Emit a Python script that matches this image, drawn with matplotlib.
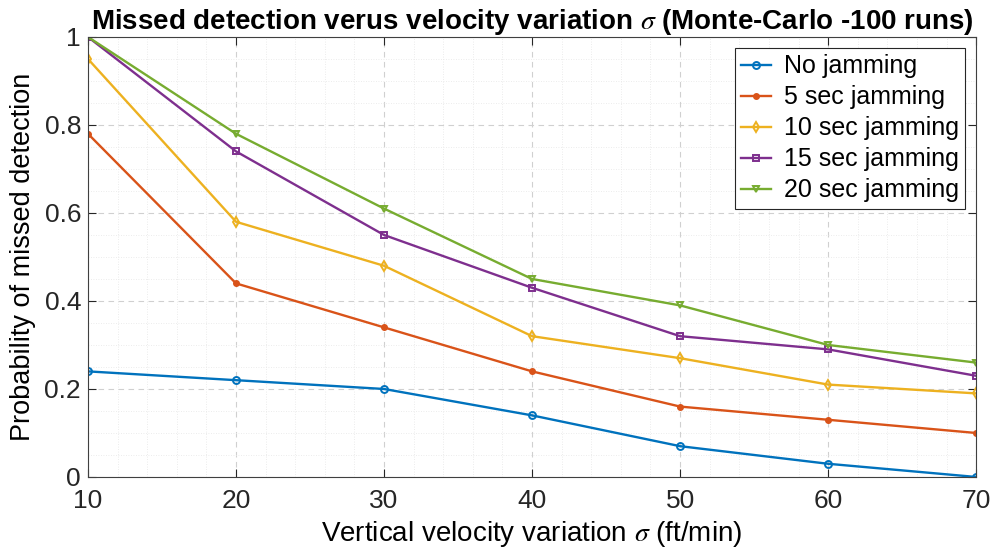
import numpy as np
import matplotlib
matplotlib.use("Agg")
import matplotlib.pyplot as plt
from matplotlib.ticker import MultipleLocator

plt.rcParams['font.family'] = ['Liberation Sans', 'DejaVu Sans']
plt.rcParams['mathtext.fontset'] = 'stix'

# data
sigma = [10, 20, 30, 40, 50, 60, 70]
no_jam = [0.24, 0.22, 0.20, 0.14, 0.07, 0.03, 0.00]
jam_5 = [0.78, 0.44, 0.34, 0.24, 0.16, 0.13, 0.10]
jam_10 = [0.95, 0.58, 0.48, 0.32, 0.27, 0.21, 0.19]
jam_15 = [1.00, 0.74, 0.55, 0.43, 0.32, 0.29, 0.23]
jam_20 = [1.00, 0.78, 0.61, 0.45, 0.39, 0.30, 0.26]
names = ["No jamming", "5 sec jamming", "10 sec jamming", "15 sec jamming", "20 sec jamming"]

colors = ["#0072BD", "#D95319", "#EDB120", "#7E2F8E", "#77AC30"]
markers = ["o", ".", "d", "s", "v"]

fig = plt.figure(figsize=(9.92, 5.58), dpi=100)
ax = fig.add_axes([0.0887, 0.1452, 0.8953, 0.7885])

for ys, name, c, m in zip([no_jam, jam_5, jam_10, jam_15, jam_20], names, colors, markers):
    if m == ".":
        ax.plot(sigma, ys, color=c, marker=m, markersize=8, linewidth=1.7, label=name)
    else:
        ax.plot(sigma, ys, color=c, marker=m, markersize=5, markerfacecolor="none",
                markeredgewidth=1.4, linewidth=1.7, label=name)

ax.set_xlim(10, 70)
ax.set_ylim(0, 1)
ax.xaxis.set_major_locator(MultipleLocator(10))
ax.yaxis.set_major_locator(MultipleLocator(0.2))
ax.xaxis.set_minor_locator(MultipleLocator(2))
ax.yaxis.set_minor_locator(MultipleLocator(0.05))
ax.yaxis.set_major_formatter(plt.FuncFormatter(lambda v, p: "%g" % round(v, 2)))

ax.grid(True, which="major", linestyle=(0, (5, 4)), color="#d0d0d0", linewidth=0.8)
ax.grid(True, which="minor", linestyle=(0, (1, 2)), color="#e6e6e6", linewidth=0.6)
ax.set_axisbelow(True)

ax.tick_params(which="both", direction="in", top=True, right=True, labelsize=19, colors="#262626")
ax.tick_params(which="major", length=6)
ax.tick_params(which="minor", length=0)
ax.tick_params(axis="x", pad=9)
ax.tick_params(axis="y", pad=5)
for s in ax.spines.values():
    s.set_color("#404040")
    s.set_linewidth(0.8)

ax.set_xlabel(r"Vertical velocity variation $\sigma$ (ft/min)", fontsize=20, labelpad=4)
ax.set_ylabel("Probability of missed detection", fontsize=19.5, labelpad=6)
ax.set_title(r"Missed detection verus velocity variation $\sigma$ (Monte-Carlo -100 runs)",
             fontsize=20, fontweight="bold", pad=6)

leg = ax.legend(loc="upper right", fontsize=18, fancybox=False, framealpha=1,
                edgecolor="#262626", borderaxespad=0.45, handlelength=1.2,
                labelspacing=0.28, borderpad=0.25, handletextpad=0.5)
leg.get_frame().set_linewidth(0.8)

fig.savefig("out.png", dpi=100)
